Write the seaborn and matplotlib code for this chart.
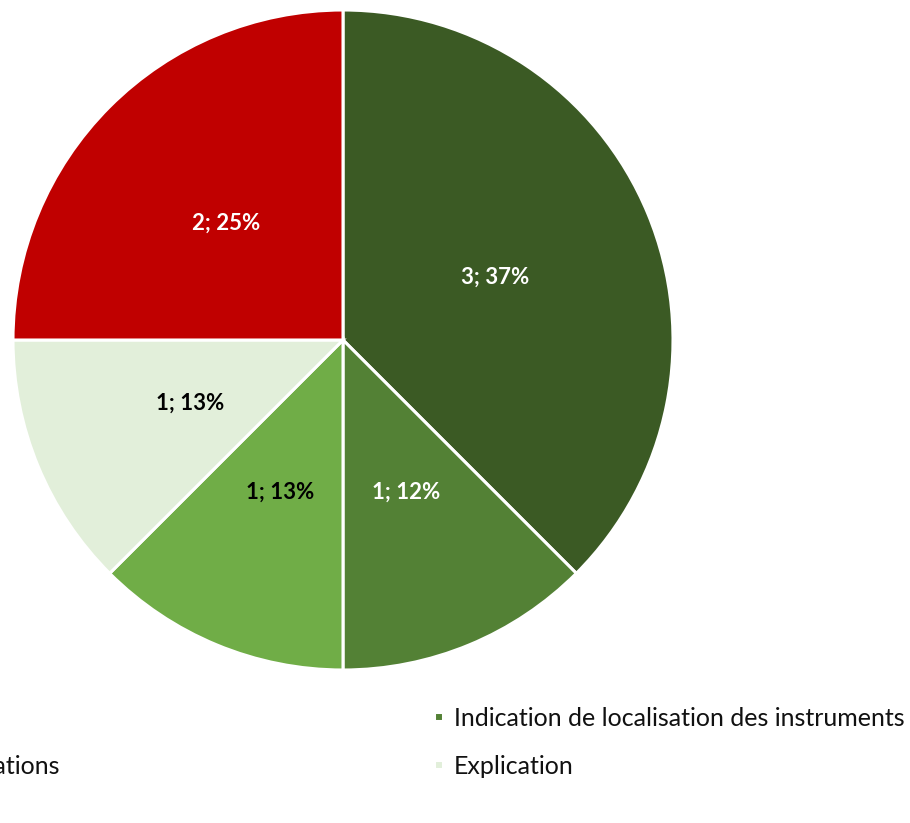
import matplotlib.pyplot as plt
import seaborn as sns
from matplotlib.patches import Rectangle
from matplotlib.legend_handler import HandlerPatch

sns.set_style("white")
plt.rcParams['font.family'] = ['Lato', 'DejaVu Sans']

# Donnees du graphique (sens horaire depuis midi)
categories = ["Orientation", "Indication de localisation des instruments",
              "Autres informations", "Explication", "Aucune"]
valeurs = [3, 1, 1, 1, 2]
pourcents = [37, 12, 13, 13, 25]
couleurs = ["#3B5A24", "#538135", "#70AD47", "#E2EFDA", "#C00000"]
couleurs_texte = ["white", "white", "black", "black", "white"]

W, H = 910, 823
fig = plt.figure(figsize=(W / 100, H / 100), dpi=100)
ax = fig.add_axes([0, 0, 1, 1])

wedges, _, autotexts = ax.pie(valeurs, colors=couleurs, startangle=90, counterclock=False,
                              center=(343, H - 340), radius=330, autopct='%1.0f%%',
                              pctdistance=0.5, frame=True,
                              wedgeprops=dict(edgecolor='white', linewidth=2.2))
ax.set_xlim(0, W)
ax.set_ylim(0, H)
ax.axis('off')

for t, v, p, c in zip(autotexts, valeurs, pourcents, couleurs_texte):
    t.set_text(f"{v}; {p}%")
    t.set_color(c)
    t.set_fontsize(16)
    t.set_fontweight('bold')

# taille de police de la legende : le libelle le plus long fait ~450 px
renderer = fig.canvas.get_renderer()
tmp = fig.text(0, 0, categories[1], fontsize=18)
larg = tmp.get_window_extent(renderer).width
tmp.remove()
taille = 18 * 450 / larg
px = 100 / 72  # points -> pixels
cote_px = 9


def carre(legend, orig_handle, xdescent, ydescent, width, height, fontsize):
    cote = cote_px / px
    return Rectangle((-xdescent + width - cote, -ydescent + (height - cote) / 2), cote, cote,
                     facecolor=orig_handle.get_facecolor(), edgecolor='none')


common = dict(frameon=False, borderpad=0, borderaxespad=0, handlelength=cote_px / (taille * px),
              handletextpad=11 / (taille * px), labelspacing=0.75, fontsize=taille,
              labelcolor='#111111', handler_map={type(wedges[0]): HandlerPatch(patch_func=carre)})


def legendes(haut):
    lg = ax.legend([wedges[0], wedges[2], wedges[4]],
                   [categories[0], categories[2], categories[4]],
                   loc='upper right', bbox_to_anchor=(60, H - haut),
                   bbox_transform=ax.transData, **common)
    ax.add_artist(lg)
    ld = ax.legend([wedges[1], wedges[3]], [categories[1], categories[3]],
                   loc='upper left', bbox_to_anchor=(434, H - haut),
                   bbox_transform=ax.transData, **common)
    return lg, ld


def centres(ld):
    fig.canvas.draw()
    ex = [t.get_window_extent(renderer) for t in ld.get_texts()]
    return [H - (e.y0 + e.y1) / 2 for e in ex]


lg, ld = legendes(703)
c1, c2 = centres(ld)
common['labelspacing'] += (48 - (c2 - c1)) / (taille * px)
lg.remove()
ld.remove()
lg, ld = legendes(703)
c1, c2 = centres(ld)
lg.remove()
ld.remove()
legendes(703 + (718 - c1))

fig.savefig("out.png", dpi=100)
